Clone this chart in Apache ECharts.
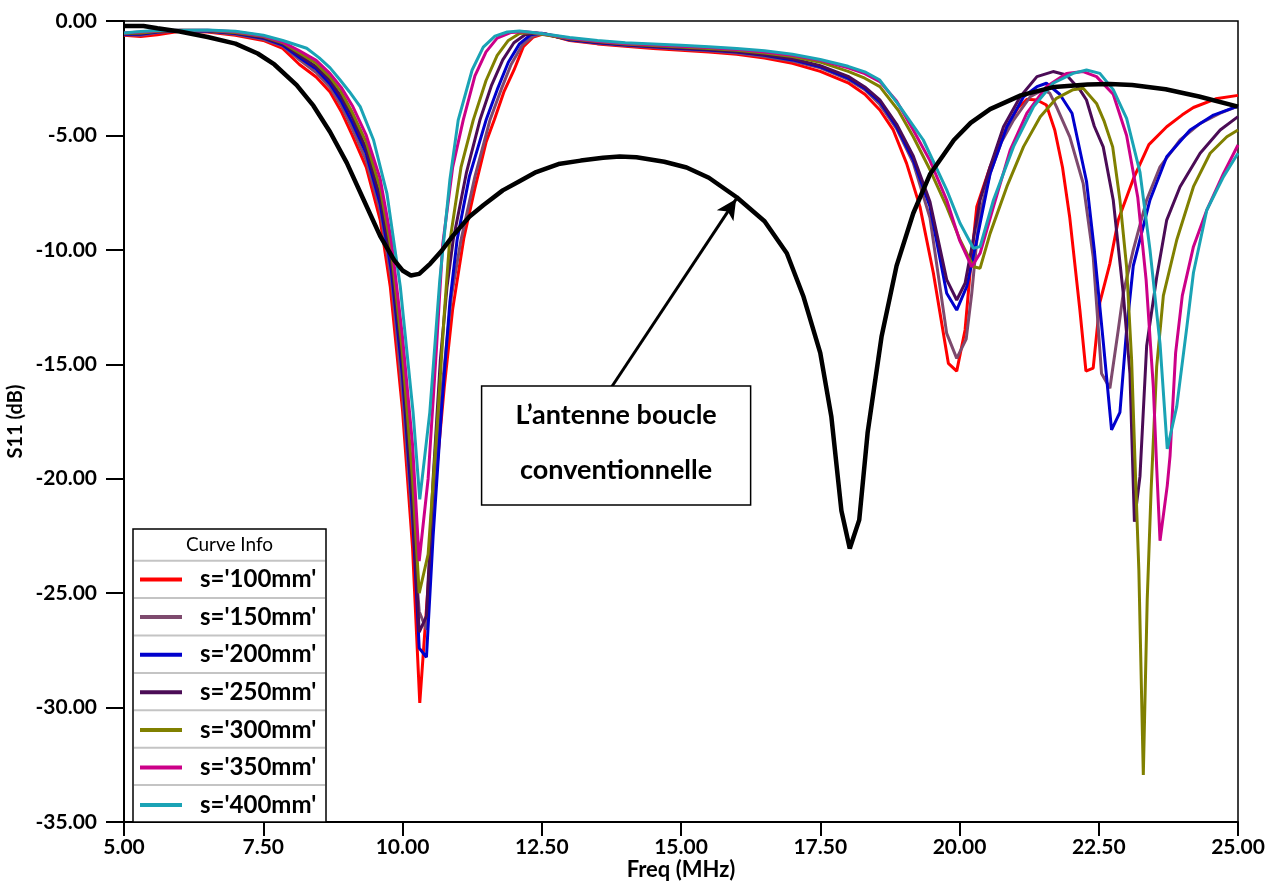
<!DOCTYPE html>
<html>
<head>
<meta charset="utf-8">
<script src="https://cdn.jsdelivr.net/npm/echarts@6/dist/echarts.min.js"></script>
<style>
  html, body { margin: 0; padding: 0; background: #fff; }
  #chart { width: 1274px; height: 882px; }
</style>
</head>
<body>
<div id="chart"></div>
<script>
// S11 (dB) versus frequency (MHz), as [freq, dB] pairs per loop spacing s.
const S100 = [[5.0,-0.62],[5.3,-0.68],[5.6,-0.6],[6.0,-0.45],[6.5,-0.48],[7.0,-0.62],[7.5,-0.85],[7.85,-1.2],[8.15,-1.9],[8.45,-2.45],[8.7,-3.1],[8.9,-3.95],[9.1,-5.0],[9.35,-6.4],[9.6,-8.7],[9.78,-11.6],[10.0,-17.0],[10.18,-23.0],[10.31,-29.8],[10.45,-25.0],[10.6,-20.0],[10.75,-16.0],[10.9,-12.6],[11.1,-9.5],[11.3,-7.3],[11.5,-5.3],[11.65,-4.3],[11.82,-3.1],[12.0,-2.15],[12.17,-1.12],[12.35,-0.7],[12.55,-0.55],[13.0,-0.85],[13.5,-1.0],[14.0,-1.1],[14.5,-1.2],[15.0,-1.28],[15.5,-1.35],[16.0,-1.45],[16.5,-1.62],[17.0,-1.85],[17.5,-2.2],[18.0,-2.7],[18.3,-3.2],[18.57,-3.89],[18.81,-4.76],[19.05,-6.22],[19.29,-8.11],[19.53,-11.0],[19.8,-14.96],[19.95,-15.3],[20.1,-13.5],[20.19,-11.0],[20.31,-8.11],[20.55,-6.37],[20.85,-4.62],[21.05,-3.8],[21.21,-3.42],[21.39,-3.45],[21.56,-3.67],[21.71,-4.76],[21.85,-6.4],[21.98,-8.6],[22.16,-12.6],[22.27,-15.3],[22.4,-15.17],[22.52,-12.3],[22.7,-10.6],[22.85,-8.7],[23.12,-6.9],[23.4,-5.4],[23.72,-4.62],[24.0,-4.1],[24.2,-3.78],[24.6,-3.4],[25.0,-3.25]];
const S150 = [[5.0,-0.6],[5.3,-0.62],[5.6,-0.5],[6.0,-0.43],[6.5,-0.46],[7.0,-0.58],[7.5,-0.8],[7.85,-1.1],[8.15,-1.7],[8.45,-2.25],[8.7,-2.9],[8.9,-3.7],[9.1,-4.7],[9.35,-6.1],[9.6,-8.3],[9.8,-11.3],[10.0,-16.3],[10.18,-22.0],[10.3,-25.8],[10.43,-26.6],[10.58,-20.5],[10.72,-15.8],[10.88,-12.0],[11.05,-9.57],[11.3,-6.8],[11.57,-4.33],[11.77,-3.0],[11.95,-1.9],[12.15,-1.05],[12.35,-0.65],[12.55,-0.55],[13.0,-0.83],[13.5,-0.97],[14.0,-1.07],[14.5,-1.15],[15.0,-1.23],[15.5,-1.3],[16.0,-1.4],[16.5,-1.55],[17.0,-1.75],[17.5,-2.05],[18.0,-2.55],[18.3,-3.0],[18.57,-3.65],[18.87,-4.7],[19.17,-6.2],[19.47,-8.6],[19.77,-13.65],[19.95,-14.74],[20.12,-13.9],[20.22,-11.9],[20.35,-8.6],[20.55,-6.66],[20.75,-5.3],[20.97,-4.33],[21.27,-3.31],[21.5,-3.0],[21.62,-3.15],[21.74,-3.74],[21.98,-5.06],[22.22,-7.09],[22.4,-10.3],[22.55,-15.4],[22.7,-16.05],[22.85,-13.5],[22.94,-11.9],[23.12,-10.0],[23.36,-7.82],[23.6,-6.37],[23.96,-5.2],[24.32,-4.47],[24.68,-4.03],[25.0,-3.72]];
const S200 = [[5.0,-0.58],[5.3,-0.58],[5.6,-0.48],[6.0,-0.42],[6.5,-0.44],[7.0,-0.55],[7.5,-0.75],[7.85,-1.05],[8.15,-1.6],[8.45,-2.1],[8.7,-2.75],[8.9,-3.5],[9.1,-4.45],[9.35,-5.8],[9.6,-8.0],[9.8,-10.9],[10.0,-15.5],[10.18,-21.5],[10.3,-27.4],[10.43,-27.8],[10.55,-22.5],[10.7,-17.0],[10.85,-12.3],[10.98,-9.57],[11.2,-6.8],[11.5,-4.33],[11.7,-3.0],[11.9,-1.8],[12.1,-1.0],[12.3,-0.6],[12.5,-0.53],[13.0,-0.82],[13.5,-0.95],[14.0,-1.05],[14.5,-1.12],[15.0,-1.2],[15.5,-1.27],[16.0,-1.36],[16.5,-1.5],[17.0,-1.7],[17.5,-2.0],[18.0,-2.5],[18.3,-2.95],[18.57,-3.53],[18.87,-4.62],[19.17,-6.07],[19.47,-8.11],[19.77,-11.9],[19.95,-12.63],[20.13,-11.6],[20.31,-9.57],[20.55,-6.66],[20.85,-4.62],[21.15,-3.31],[21.39,-2.87],[21.56,-2.72],[21.8,-3.2],[22.02,-4.03],[22.28,-7.0],[22.42,-10.0],[22.58,-14.0],[22.73,-17.87],[22.88,-17.1],[23.0,-13.5],[23.12,-10.7],[23.42,-7.82],[23.72,-5.93],[24.14,-4.76],[24.56,-4.11],[25.0,-3.72]];
const S250 = [[5.0,-0.56],[5.3,-0.55],[5.6,-0.46],[6.0,-0.41],[6.5,-0.43],[7.0,-0.52],[7.5,-0.72],[7.85,-1.0],[8.15,-1.5],[8.45,-2.0],[8.7,-2.6],[8.9,-3.3],[9.1,-4.2],[9.35,-5.6],[9.6,-7.7],[9.8,-10.5],[10.0,-15.0],[10.18,-21.0],[10.3,-26.7],[10.43,-26.0],[10.55,-20.0],[10.68,-14.8],[10.8,-11.6],[10.91,-9.57],[11.15,-6.6],[11.39,-4.33],[11.6,-2.8],[11.8,-1.7],[12.0,-0.95],[12.2,-0.6],[12.4,-0.52],[13.0,-0.8],[13.5,-0.93],[14.0,-1.03],[14.5,-1.1],[15.0,-1.18],[15.5,-1.25],[16.0,-1.33],[16.5,-1.47],[17.0,-1.65],[17.5,-1.95],[18.0,-2.42],[18.3,-2.88],[18.57,-3.45],[18.87,-4.5],[19.17,-5.9],[19.47,-7.9],[19.77,-11.3],[19.95,-12.19],[20.1,-11.46],[20.25,-9.5],[20.37,-7.82],[20.55,-6.37],[20.79,-4.62],[21.09,-3.31],[21.39,-2.43],[21.68,-2.21],[21.92,-2.36],[22.16,-3.0],[22.28,-3.45],[22.42,-4.6],[22.58,-5.5],[22.76,-7.82],[22.94,-11.9],[23.06,-15.4],[23.14,-21.88],[23.24,-19.9],[23.36,-14.2],[23.54,-11.2],[23.72,-8.7],[23.96,-7.24],[24.32,-5.78],[24.68,-4.76],[25.0,-4.18]];
const S300 = [[5.0,-0.54],[5.3,-0.52],[5.6,-0.45],[6.0,-0.4],[6.5,-0.42],[7.0,-0.5],[7.5,-0.68],[7.85,-0.95],[8.15,-1.4],[8.45,-1.85],[8.7,-2.45],[8.9,-3.1],[9.1,-4.0],[9.35,-5.3],[9.6,-7.3],[9.8,-10.0],[10.0,-14.5],[10.18,-20.0],[10.3,-25.0],[10.46,-23.3],[10.64,-17.0],[10.75,-12.8],[10.84,-9.8],[11.05,-6.4],[11.27,-4.33],[11.5,-2.6],[11.7,-1.5],[11.9,-0.85],[12.1,-0.55],[12.3,-0.5],[13.0,-0.78],[13.5,-0.9],[14.0,-1.0],[14.5,-1.07],[15.0,-1.14],[15.5,-1.2],[16.0,-1.28],[16.5,-1.4],[17.0,-1.55],[17.5,-1.8],[18.0,-2.2],[18.3,-2.5],[18.57,-2.87],[18.9,-3.9],[19.17,-5.06],[19.47,-6.5],[19.77,-8.11],[20.01,-9.57],[20.25,-10.74],[20.37,-10.8],[20.55,-9.28],[20.85,-7.24],[21.15,-5.49],[21.45,-4.18],[21.74,-3.38],[22.04,-3.0],[22.22,-2.94],[22.46,-3.6],[22.6,-4.4],[22.75,-5.5],[22.88,-7.82],[23.0,-10.74],[23.09,-14.8],[23.15,-19.2],[23.22,-24.0],[23.3,-32.95],[23.37,-25.3],[23.44,-20.5],[23.54,-15.1],[23.66,-12.0],[23.9,-9.57],[24.2,-7.24],[24.5,-5.78],[24.8,-5.06],[25.0,-4.76]];
const S350 = [[5.0,-0.52],[5.3,-0.48],[5.6,-0.43],[6.0,-0.4],[6.5,-0.4],[7.0,-0.47],[7.5,-0.66],[7.85,-0.92],[8.15,-1.3],[8.45,-1.72],[8.7,-2.3],[8.9,-2.9],[9.1,-3.7],[9.35,-5.0],[9.6,-6.9],[9.8,-9.6],[10.0,-13.8],[10.18,-18.5],[10.3,-23.6],[10.46,-20.0],[10.61,-14.3],[10.72,-9.8],[10.9,-6.4],[11.09,-4.33],[11.3,-2.4],[11.5,-1.35],[11.7,-0.75],[11.95,-0.5],[12.2,-0.47],[12.5,-0.55],[13.0,-0.75],[13.5,-0.88],[14.0,-0.98],[14.5,-1.04],[15.0,-1.1],[15.5,-1.16],[16.0,-1.24],[16.5,-1.35],[17.0,-1.5],[17.5,-1.72],[18.0,-2.05],[18.3,-2.3],[18.57,-2.65],[18.87,-3.5],[19.17,-4.76],[19.47,-6.1],[19.77,-7.82],[20.0,-9.57],[20.22,-10.74],[20.37,-10.15],[20.61,-8.11],[20.91,-5.64],[21.21,-4.03],[21.56,-2.87],[21.92,-2.29],[22.22,-2.21],[22.46,-2.43],[22.76,-3.2],[23.0,-5.0],[23.2,-7.7],[23.35,-11.3],[23.48,-16.0],[23.54,-19.5],[23.6,-22.71],[23.73,-20.3],[23.78,-19.0],[23.88,-14.5],[24.0,-12.0],[24.2,-9.86],[24.44,-8.26],[24.74,-6.66],[25.0,-5.42]];
const S400 = [[5.0,-0.52],[5.3,-0.46],[5.6,-0.42],[6.0,-0.4],[6.5,-0.39],[7.0,-0.45],[7.5,-0.62],[7.85,-0.85],[8.28,-1.19],[8.5,-1.6],[8.7,-2.05],[8.88,-2.58],[9.05,-3.1],[9.24,-3.74],[9.48,-5.2],[9.72,-7.53],[9.96,-11.6],[10.19,-17.1],[10.31,-20.9],[10.49,-17.1],[10.67,-11.3],[10.85,-6.95],[11.0,-4.33],[11.25,-2.14],[11.45,-1.14],[11.66,-0.66],[11.88,-0.48],[12.1,-0.44],[12.5,-0.55],[13.0,-0.72],[13.5,-0.85],[14.0,-0.95],[14.5,-1.0],[15.0,-1.06],[15.5,-1.12],[16.0,-1.2],[16.5,-1.3],[17.0,-1.45],[17.5,-1.68],[18.0,-1.98],[18.3,-2.22],[18.57,-2.58],[18.93,-3.74],[19.35,-5.2],[19.77,-7.38],[20.01,-8.84],[20.25,-9.93],[20.37,-9.86],[20.61,-7.82],[20.97,-5.49],[21.33,-3.74],[21.68,-2.72],[22.04,-2.29],[22.28,-2.14],[22.52,-2.29],[22.76,-3.0],[23.0,-4.25],[23.24,-6.6],[23.42,-10.0],[23.6,-14.1],[23.73,-18.7],[23.9,-16.85],[24.08,-13.4],[24.2,-11.0],[24.44,-8.26],[24.74,-6.8],[25.0,-5.78]];
// Conventional loop antenna
const LOOP = [[5.0,-0.22],[5.35,-0.22],[5.6,-0.32],[6.0,-0.46],[6.5,-0.7],[7.0,-0.99],[7.4,-1.42],[7.7,-1.9],[8.1,-2.8],[8.4,-3.7],[8.7,-4.85],[9.0,-6.2],[9.3,-7.8],[9.6,-9.4],[9.85,-10.45],[10.0,-10.9],[10.15,-11.12],[10.3,-11.05],[10.5,-10.6],[10.7,-10.05],[10.9,-9.4],[11.2,-8.55],[11.45,-8.05],[11.8,-7.4],[12.1,-7.0],[12.4,-6.6],[12.8,-6.25],[13.2,-6.1],[13.6,-5.98],[13.9,-5.92],[14.2,-5.95],[14.7,-6.15],[15.1,-6.4],[15.5,-6.85],[16.0,-7.7],[16.5,-8.75],[16.9,-10.15],[17.2,-12.05],[17.5,-14.5],[17.7,-17.3],[17.88,-21.4],[18.03,-23.05],[18.2,-21.8],[18.35,-18.0],[18.6,-13.8],[18.87,-10.7],[19.17,-8.4],[19.47,-6.7],[19.9,-5.2],[20.2,-4.45],[20.55,-3.85],[21.1,-3.25],[21.7,-2.88],[22.3,-2.77],[22.7,-2.75],[23.1,-2.8],[23.7,-2.98],[24.3,-3.3],[25.0,-3.74]];

const CURVE_NAMES = ["s='100mm'", "s='150mm'", "s='200mm'", "s='250mm'", "s='300mm'", "s='350mm'", "s='400mm'"];
const CURVE_DATA = [S100, S150, S200, S250, S300, S350, S400];
const CURVE_COLORS = ['#FF0000', '#7E4A6E', '#0000CD', '#4B0C56', '#808000', '#CC0088', '#1AA3B5'];
const LOOP_NAME = 'L\u2019antenne boucle conventionnelle';
const ANNOT_LINES = ['L\u2019antenne boucle', 'conventionnelle'];
// arrow from the text box up to the conventional-loop curve: [freq, dB]
const ARROW_FROM = [13.73, -16.08];
const ARROW_TO = [15.99, -7.78];
// annotation box corners: [freq, dB]
const BOX_TL = [11.42, -15.95];
const BOX_BR = [16.25, -21.15];

const FONT = 'Lato, "Open Sans", sans-serif';

const chart = echarts.init(document.getElementById('chart'), null, { renderer: 'canvas' });

const series = CURVE_NAMES.map((name, i) => ({
  name: name,
  type: 'line',
  data: CURVE_DATA[i],
  showSymbol: false,
  symbol: 'none',
  smooth: false,
  color: CURVE_COLORS[i],
  lineStyle: { width: 3, color: CURVE_COLORS[i] },
  z: 2
}));
series.push({
  name: LOOP_NAME,
  type: 'line',
  data: LOOP,
  showSymbol: false,
  symbol: 'none',
  color: '#000',
  lineStyle: { width: 4.5, color: '#000' },
  z: 3,
  markLine: {
    silent: true,
    symbol: ['none', 'arrow'],
    symbolSize: [15, 20],
    label: { show: false },
    lineStyle: { color: '#000', width: 3, type: 'solid' },
    data: [[{ coord: ARROW_FROM }, { coord: ARROW_TO }]]
  }
});

const axisText = { fontFamily: FONT, fontWeight: 'bold', fontSize: 21, color: '#000' };

chart.setOption({
  animation: false,
  backgroundColor: '#fff',
  grid: {
    left: 124, right: 36, top: 21, bottom: 60,
    containLabel: false, outerBoundsMode: 'none',
    show: true, borderColor: '#000', borderWidth: 1.5, backgroundColor: 'transparent'
  },
  xAxis: {
    type: 'value', min: 5, max: 25, interval: 2.5,
    name: 'Freq (MHz)', nameLocation: 'middle', nameGap: 37, nameMoveOverlap: false,
    nameTextStyle: { fontFamily: FONT, fontWeight: 'bold', fontSize: 22, color: '#000', verticalAlign: 'top' },
    axisLine: { onZero: false, lineStyle: { color: '#000', width: 2 } },
    axisTick: { inside: false, length: 14, lineStyle: { color: '#000', width: 2 } },
    axisLabel: Object.assign({ margin: 15, formatter: v => v.toFixed(2) }, axisText),
    splitLine: { show: false }
  },
  yAxis: {
    type: 'value', min: -35, max: 0, interval: 5,
    name: 'S11 (dB)', nameLocation: 'middle', nameGap: 108, nameRotate: 90, nameMoveOverlap: false,
    nameTextStyle: { fontFamily: FONT, fontWeight: 'bold', fontSize: 20, color: '#000', verticalAlign: 'middle' },
    axisLine: { onZero: false, lineStyle: { color: '#000', width: 2 } },
    axisTick: { inside: false, length: 18, lineStyle: { color: '#000', width: 2 } },
    axisLabel: Object.assign({ margin: 27, formatter: v => v.toFixed(2) }, axisText),
    splitLine: { show: false }
  },
  legend: {
    data: CURVE_NAMES,
    orient: 'vertical',
    left: 140, top: 567.5,
    padding: 0,
    itemGap: 13.6,
    itemWidth: 42, itemHeight: 4,
    icon: 'rect',
    selectedMode: false,
    z: 6,
    textStyle: { fontFamily: FONT, fontWeight: 'bold', fontSize: 24, color: '#000', lineHeight: 24, padding: [0, 0, 0, 13] }
  },
  series: series
});

// Legend frame with header and row separators
const LEG = { x: 133, y: 529, w: 193, h: 293, header: 31.7, row: 37.4 };
const legendGraphics = [
  { type: 'rect', id: 'legBox', z: 5, shape: { x: LEG.x, y: LEG.y, width: LEG.w, height: LEG.h }, style: { fill: '#fff', stroke: '#000', lineWidth: 1.5 } },
  { type: 'text', id: 'legTitle', z: 6, style: { text: 'Curve Info', x: LEG.x + LEG.w / 2, y: LEG.y + LEG.header / 2, align: 'center', verticalAlign: 'middle', fontFamily: FONT, fontSize: 19, fill: '#000' } }
];
for (let k = 0; k < CURVE_NAMES.length; k++) {
  const y = LEG.y + LEG.header + k * LEG.row;
  legendGraphics.push({ type: 'line', id: 'legSep' + k, z: 6, shape: { x1: LEG.x + 1, y1: y, x2: LEG.x + LEG.w - 1, y2: y }, style: { stroke: '#c4c4c4', lineWidth: 2 } });
}

// Annotation box anchored in data space
const tl = chart.convertToPixel({ gridIndex: 0 }, BOX_TL);
const br = chart.convertToPixel({ gridIndex: 0 }, BOX_BR);
const bw = br[0] - tl[0], bh = br[1] - tl[1];
const annotGraphics = [
  { type: 'rect', id: 'annBox', z: 5, shape: { x: tl[0], y: tl[1], width: bw, height: bh }, style: { fill: '#fff', stroke: '#000', lineWidth: 1.5 } },
  { type: 'text', id: 'annL1', z: 6, style: { text: ANNOT_LINES[0], x: tl[0] + bw / 2, y: tl[1] + bh * 0.25, align: 'center', verticalAlign: 'middle', fontFamily: FONT, fontWeight: 'bold', fontSize: 27, fill: '#000' } },
  { type: 'text', id: 'annL2', z: 6, style: { text: ANNOT_LINES[1], x: tl[0] + bw / 2, y: tl[1] + bh * 0.71, align: 'center', verticalAlign: 'middle', fontFamily: FONT, fontWeight: 'bold', fontSize: 27, fill: '#000' } }
];

chart.setOption({ graphic: legendGraphics.concat(annotGraphics) });
</script>
</body>
</html>
